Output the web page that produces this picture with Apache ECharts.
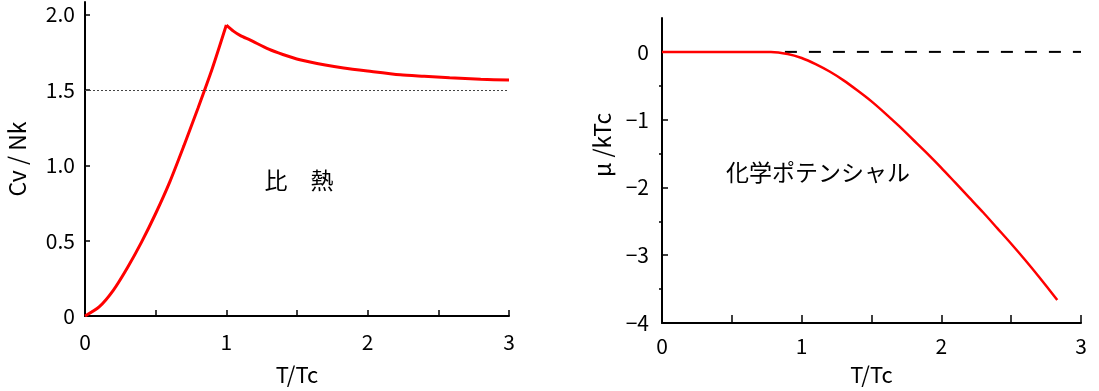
<!DOCTYPE html>
<html><head><meta charset="utf-8">
<script src="https://cdn.jsdelivr.net/npm/echarts@6/dist/echarts.min.js"></script>
<style>html,body{margin:0;padding:0;background:#fff}#c{width:1099px;height:391px}</style>
</head><body><div id="c"></div>
<script>
const FONT = '"Noto Sans CJK JP", "Noto Sans", sans-serif';

// Left panel: specific heat Cv/Nk vs T/Tc
const heatBelowT  = [0, 0.1, 0.2, 0.3, 0.4, 0.5, 0.6, 0.7, 0.8, 0.9, 1.0];
const heatBelowCv = [0, 0.06, 0.17, 0.32, 0.49, 0.68, 0.89, 1.13, 1.38, 1.64, 1.93];
const heatAboveT  = [1.0, 1.05, 1.1, 1.17, 1.3, 1.4, 1.52, 1.7, 1.83, 2.0, 2.23, 2.4, 2.58, 2.8, 3.0];
const heatAboveCv = [1.93, 1.89, 1.86, 1.83, 1.77, 1.735, 1.70, 1.665, 1.645, 1.625, 1.60, 1.59, 1.58, 1.57, 1.565];
const classicalLimit = 1.5;

// Right panel: chemical potential mu/kTc vs T/Tc
const muT = [0, 0.5, 0.78, 0.9, 1.0, 1.1, 1.2, 1.3, 1.4, 1.5, 1.6, 1.7, 1.8, 1.9, 2.0, 2.1, 2.2, 2.3, 2.4, 2.5, 2.6, 2.7, 2.83];
const muV = [0, 0, 0, -0.03, -0.09, -0.18, -0.29, -0.42, -0.57, -0.73, -0.91, -1.10, -1.30, -1.50, -1.71, -1.93, -2.15, -2.37, -2.60, -2.83, -3.07, -3.32, -3.66];
const zeroT = [0.88, 3.0];
const zeroV = [0, 0];

// Tick values
const leftYLabels = [0, 0.5, 1.0, 1.5, 2.0];
const rightYMajor = [-4, -3, -2, -1, 0];
const rightYMinor = [-3.5, -2.5, -1.5, -0.5];

const pairs = (xs, ys) => xs.map((x, i) => [x, ys[i]]);
const txt = {color: '#000', fontFamily: FONT, fontSize: 21};
const axisLine = {show: true, onZero: false, lineStyle: {color: '#000', width: 2}};

const chart = echarts.init(document.getElementById('c'), null, {renderer: 'canvas'});
chart.setOption({
  backgroundColor: '#fff',
  animation: false,
  grid: [
    {left: 85, top: 2, width: 424, height: 325},
    {left: 662, top: 18, width: 419, height: 308}
  ],
  xAxis: [
    {type: 'value', gridIndex: 0, min: 0, max: 3, interval: 0.5,
     name: 'T/Tc', nameLocation: 'middle', nameGap: 48, nameTextStyle: {color: '#000', fontFamily: FONT, fontSize: 22},
     axisLine: axisLine,
     axisTick: {show: true, inside: true, length: 6, lineStyle: {color: '#000', width: 1.5}},
     axisLabel: Object.assign({margin: 16, formatter: v => (Number.isInteger(v) ? String(v) : '')}, txt),
     splitLine: {show: false}},
    {type: 'value', gridIndex: 1, min: 0, max: 3, interval: 0.5,
     name: 'T/Tc', nameLocation: 'middle', nameGap: 41, nameTextStyle: {color: '#000', fontFamily: FONT, fontSize: 22},
     axisLine: axisLine,
     axisTick: {show: true, inside: true, length: 8, lineStyle: {color: '#000', width: 1.5}},
     axisLabel: Object.assign({margin: 13, formatter: v => (Number.isInteger(v) ? String(v) : '')}, txt),
     splitLine: {show: false}}
  ],
  yAxis: [
    {type: 'value', gridIndex: 0, min: 0, max: 2.083,
     name: 'Cv / Nk', nameLocation: 'middle', nameGap: 56, nameRotate: 90,
     nameTextStyle: {color: '#000', fontFamily: FONT, fontSize: 23},
     axisLine: axisLine,
     axisTick: {show: true, inside: true, length: 5, customValues: leftYLabels, lineStyle: {color: '#000', width: 1.5}},
     axisLabel: Object.assign({margin: 10, customValues: leftYLabels, formatter: v => (v === 0 ? '0' : v.toFixed(1))}, txt),
     splitLine: {show: false}},
    {type: 'value', gridIndex: 1, min: -4, max: 0.5,
     axisLine: axisLine,
     axisTick: {show: true, inside: true, length: 6, customValues: rightYMajor, lineStyle: {color: '#000', width: 1.5}},
     axisLabel: Object.assign({margin: 13, customValues: rightYMajor, formatter: v => String(v).replace('-', '\u2212')}, txt),
     splitLine: {show: false}},
    {type: 'value', gridIndex: 1, min: -4, max: 0.5,
     axisLine: {show: false},
     axisTick: {show: true, inside: true, length: 3, customValues: rightYMinor, lineStyle: {color: '#000', width: 1.5}},
     axisLabel: {show: false},
     splitLine: {show: false}}
  ],
  graphic: [
    {type: 'text', x: 299, y: 180, style: {text: '比\u3000熱', fill: '#000', font: '23px ' + FONT, textAlign: 'center', textVerticalAlign: 'middle'}},
    {type: 'text', x: 818, y: 172, style: {text: '化学ポテンシャル', fill: '#000', font: '23px ' + FONT, textAlign: 'center', textVerticalAlign: 'middle'}},
    {type: 'text', x: 602, y: 145, rotation: Math.PI / 2, style: {text: 'μ /kTc', fill: '#000', font: '23px ' + FONT, textAlign: 'center', textVerticalAlign: 'middle'}}
  ],
  series: [
    {type: 'line', xAxisIndex: 0, yAxisIndex: 0, data: pairs(heatBelowT, heatBelowCv), smooth: 0.25,
     symbol: 'none', lineStyle: {color: '#ff0000', width: 3}, z: 3,
     markLine: {silent: true, symbol: 'none', label: {show: false},
       lineStyle: {color: '#444', width: 1, type: [2, 2]}, data: [{yAxis: classicalLimit}]}},
    {type: 'line', xAxisIndex: 0, yAxisIndex: 0, data: pairs(heatAboveT, heatAboveCv), smooth: 0.25,
     symbol: 'none', lineStyle: {color: '#ff0000', width: 3}, z: 3},
    {type: 'line', xAxisIndex: 1, yAxisIndex: 1, data: pairs(zeroT, zeroV),
     symbol: 'none', lineStyle: {color: '#000', width: 2, type: [12, 12]}, z: 2},
    {type: 'line', xAxisIndex: 1, yAxisIndex: 1, data: pairs(muT, muV), smooth: 0.25,
     symbol: 'none', lineStyle: {color: '#ff0000', width: 2.5}, z: 3}
  ]
});
</script></body></html>
